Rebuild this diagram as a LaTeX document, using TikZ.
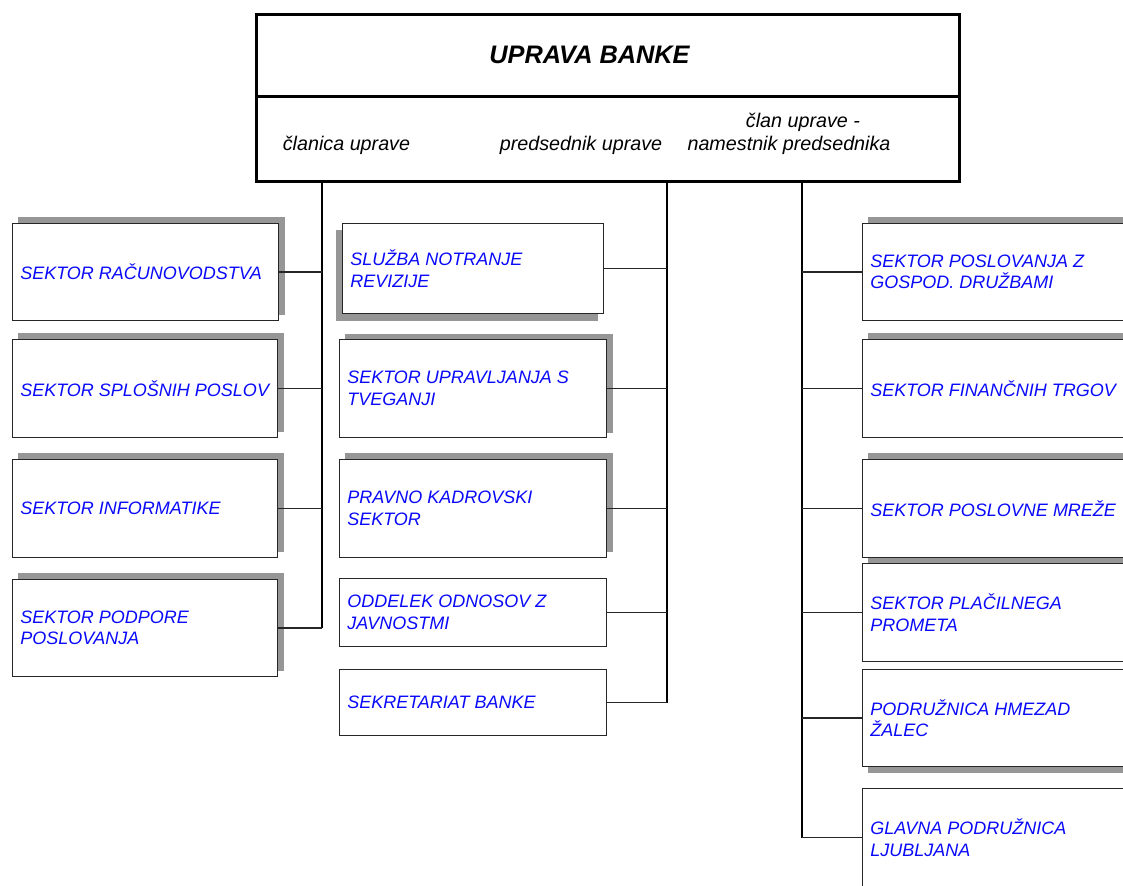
\documentclass[tikz,border=0pt]{standalone}
\usepackage{fontspec}
\setmainfont{Liberation Sans}
\usetikzlibrary{backgrounds}
\definecolor{shad}{RGB}{150,150,150}
\definecolor{txtblue}{RGB}{10,10,250}
\tikzset{
  orgbox/.style={draw=black!85, line width=0.75pt, fill=white, rectangle, anchor=north west,
    inner sep=0pt},
  boxtext/.style={anchor=west, inner sep=0pt, align=left, text=txtblue,
    font=\fontsize{13.5}{16.1}\selectfont\itshape},
  toplabel/.style={font=\fontsize{14.8}{17}\selectfont\itshape, inner sep=0pt},
  trunk/.style={draw=black, line width=1.2pt},
  branch/.style={draw=black!85, line width=0.8pt}
}
\newcommand\obox[6]{%
  \pgfmathsetmacro\bw{(#4-#2)*0.75}%
  \pgfmathsetmacro\bh{(#5-#3)*0.75}%
  \node[orgbox, minimum width=\bw pt, minimum height=\bh pt] (#1) at (#2,#3) {};
  \node[boxtext] (#1t) at ([xshift=6pt]#1.west) {#6};}
\newcommand\oshadow[3]{%
  \begin{scope}[on background layer]
    \fill[shad] ([shift={(#2,#3)}]#1.south west) rectangle ([shift={(#2,#3)}]#1.north east);
  \end{scope}}
\begin{document}
\begin{tikzpicture}[x=0.75pt, y=-0.75pt]
\useasboundingbox (0,0) rectangle (1123,885);
\clip (0,0) rectangle (1123,885);

% top box
\node[draw=black, line width=2.25pt, minimum width=527.25pt, minimum height=125.25pt,
      anchor=north west, inner sep=0pt] (top) at (255,13) {};
\coordinate (divl) at (255,96);
\coordinate (divr) at (958,96);
\draw[line width=2.25pt] (divl) -- (divr);
\node[font=\fontsize{19}{22}\selectfont\bfseries\itshape, inner sep=0pt] (title) at (589.5,55) {UPRAVA BANKE};
\node[toplabel] (lab1) at (346.5,145) {članica uprave};
\node[toplabel] (lab2) at (581,145) {predsednik uprave};
\node[toplabel] (lab3a) at (803,122) {član uprave -};
\node[toplabel] (lab3b) at (789,145) {namestnik predsednika};

% left column
\obox{L1}{12}{223}{278}{320}{SEKTOR RAČUNOVODSTVA}
\obox{L2}{12}{339}{277}{437}{SEKTOR SPLOŠNIH POSLOV}
\obox{L3}{12}{459}{277}{557}{SEKTOR INFORMATIKE}
\obox{L4}{12}{579}{277}{676}{SEKTOR PODPORE\\POSLOVANJA}
\oshadow{L1}{6}{-6}
\oshadow{L2}{6}{-6}
\oshadow{L3}{6}{-6}
\oshadow{L4}{6}{-6}

% middle column
\obox{M1}{342}{223}{603}{313}{SLUŽBA NOTRANJE\\REVIZIJE}
\obox{M2}{339}{339}{606}{437}{SEKTOR UPRAVLJANJA S\\TVEGANJI}
\obox{M3}{339}{459}{606}{557}{PRAVNO KADROVSKI\\SEKTOR}
\obox{M4}{339}{578}{606}{646}{ODDELEK ODNOSOV Z\\JAVNOSTMI}
\obox{M5}{339}{669}{606}{735}{SEKRETARIAT BANKE}
\oshadow{M1}{-6}{7}
\oshadow{M2}{6}{-5}
\oshadow{M3}{6}{-6}

% right column
\obox{R1}{862}{223}{1140}{320}{SEKTOR POSLOVANJA Z\\GOSPOD. DRUŽBAMI}
\obox{R2}{862}{339}{1140}{437}{SEKTOR FINANČNIH TRGOV}
\obox{R3}{862}{459}{1140}{557}{SEKTOR POSLOVNE MREŽE}
\obox{R4}{862}{563}{1140}{661}{SEKTOR PLAČILNEGA\\PROMETA}
\obox{R5}{862}{669}{1140}{766}{PODRUŽNICA HMEZAD\\ŽALEC}
\obox{R6}{862}{788}{1140}{886}{GLAVNA PODRUŽNICA\\LJUBLJANA}
\oshadow{R1}{6}{-6}
\oshadow{R2}{6}{-6}
\oshadow{R3}{6}{-6}
\oshadow{R4}{6}{-6}
\oshadow{R5}{6}{6}

% trunks
\coordinate (tl) at (322,180);
\coordinate (tm) at (667,180);
\coordinate (tr) at (802,180);
\draw[trunk] (tl) -- (tl |- L4.east);
\draw[trunk] (tm) -- (tm |- M5.east);
\draw[trunk] (tr) -- (tr |- R6.west);

% branches
\foreach \n in {L1,L2,L3,L4}{\draw[branch] (\n.east) -- (\n.east -| tl);}
\foreach \n in {M1,M2,M3,M4,M5}{\draw[branch] (\n.east) -- (\n.east -| tm);}
\foreach \n in {R1,R2,R3,R4,R5,R6}{\draw[branch] (\n.west) -- (\n.west -| tr);}
\end{tikzpicture}
\end{document}
